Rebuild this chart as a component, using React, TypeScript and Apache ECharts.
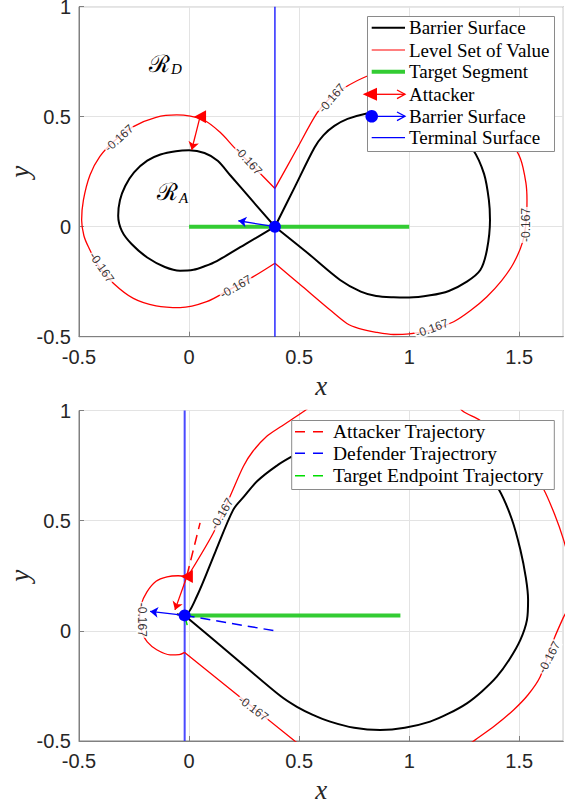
import React, { useEffect, useRef } from 'react';
import * as echarts from 'echarts';

// ---------- axes ----------
const X_MIN = -0.5;
const X_MAX = 1.7;
const Y_MIN = -0.5;
const Y_MAX = 1;
const TICK_STEP = 0.5;

// ---------- top panel ----------
const topTerminal: number[][] = [[0.39, -0.5], [0.39, 1]];
const topTarget: number[][] = [[0, 0], [1, 0]];
const topBarrierLeft: number[][] = [
  [0.39, 0], [0.29, 0.115], [0.186, 0.235], [0.13, 0.3], [0.07, 0.335], [0.0, 0.347],
  [-0.06, 0.343], [-0.13, 0.328], [-0.19, 0.3], [-0.25, 0.247], [-0.29, 0.185],
  [-0.314, 0.12], [-0.322, 0.05], [-0.305, -0.02], [-0.26, -0.08], [-0.19, -0.14],
  [-0.11, -0.183], [-0.041, -0.2], [0.02, -0.196], [0.07, -0.18], [0.126, -0.156],
  [0.26, -0.077], [0.39, 0],
];
const topBarrierRight: number[][] = [
  [0.39, 0], [0.48, 0.18], [0.57, 0.36], [0.61, 0.415], [0.66, 0.458], [0.72, 0.49],
  [0.807, 0.515], [0.9, 0.528], [1.0, 0.525], [1.1, 0.5], [1.2, 0.45], [1.29, 0.35],
  [1.34, 0.24], [1.362, 0.121], [1.367, 0.03], [1.353, -0.106], [1.323, -0.197],
  [1.262, -0.25], [1.18, -0.292], [1.095, -0.312], [1.0, -0.322], [0.929, -0.321],
  [0.85, -0.315], [0.78, -0.295], [0.686, -0.242], [0.54, -0.121], [0.39, 0],
];
const topLevelLeft: number[][] = [
  [0.39, 0.174], [0.3, 0.265], [0.209, 0.356], [0.14, 0.43], [0.065, 0.485],
  [-0.056, 0.508], [-0.15, 0.497], [-0.253, 0.455], [-0.34, 0.39], [-0.405, 0.32],
  [-0.45, 0.235], [-0.48, 0.121], [-0.488, 0.03], [-0.478, -0.04], [-0.458, -0.09],
  [-0.41, -0.18], [-0.344, -0.257], [-0.253, -0.326], [-0.15, -0.36], [-0.041, -0.368],
  [0.08, -0.341], [0.185, -0.285], [0.292, -0.227], [0.39, -0.166],
];
const topLevelRight: number[][] = [
  [0.39, 0.174], [0.485, 0.345], [0.58, 0.515], [0.64, 0.585], [0.701, 0.629],
  [0.81, 0.685], [0.92, 0.71], [1.03, 0.712], [1.15, 0.69], [1.27, 0.63], [1.38, 0.52],
  [1.45, 0.41], [1.505, 0.31], [1.53, 0.2], [1.535, 0.121], [1.532, 0.03], [1.515, -0.07],
  [1.474, -0.166], [1.42, -0.245], [1.353, -0.318], [1.28, -0.38], [1.202, -0.432],
  [1.1, -0.47], [1.0, -0.487], [0.929, -0.49], [0.85, -0.48], [0.77, -0.462],
  [0.717, -0.44], [0.641, -0.379], [0.515, -0.272], [0.39, -0.166],
];
// [x, y, rotation in degrees]
const topContourLabels: number[][] = [
  [-0.318, 0.402, 42], [0.27, 0.3, -48], [0.648, 0.584, 50], [-0.397, -0.185, -55],
  [0.212, -0.273, 30], [1.103, -0.462, 20], [1.53, 0.008, 90],
];
const topAttacker: number[] = [0.05, 0.5];
const topAttackerArrow: number[][] = [[0.05, 0.5], [0.012, 0.349]];
const topDefender: number[] = [0.39, 0];
const topDefenderArrow: number[][] = [[0.39, 0], [0.224, 0.027]];

// ---------- bottom panel ----------
const botTerminal: number[][] = [[-0.02, -0.5], [-0.02, 1]];
const botTarget: number[][] = [[-0.02, 0.07], [0.96, 0.07]];
const botBarrier: number[][] = [
  [-0.055, 0.075], [-0.02, 0.07], [0.035, 0.156], [0.12, 0.36], [0.201, 0.55], [0.25, 0.61],
  [0.31, 0.68], [0.399, 0.75], [0.474, 0.795], [0.6, 0.86], [0.75, 0.915], [0.9, 0.935],
  [1.05, 0.915], [1.2, 0.86], [1.32, 0.76], [1.406, 0.644], [1.465, 0.51], [1.505, 0.368],
  [1.53, 0.24], [1.54, 0.141], [1.535, 0.05], [1.505, -0.041], [1.455, -0.13],
  [1.398, -0.208], [1.33, -0.275], [1.262, -0.329], [1.18, -0.375], [1.095, -0.412],
  [0.98, -0.44], [0.868, -0.45], [0.75, -0.44], [0.641, -0.412], [0.56, -0.38],
  [0.49, -0.345], [0.414, -0.295], [0.2, -0.115], [-0.02, 0.07],
];
const botLevelUpper: number[][] = [
  [0.58, 1.04], [0.527, 1.0], [0.414, 0.925], [0.353, 0.883], [0.29, 0.815],
  [0.247, 0.747], [0.186, 0.61], [0.11, 0.444], [0.005, 0.265], [-0.01, 0.247],
];
const botLevelArc: number[][] = [
  [-0.01, 0.247], [-0.05, 0.25], [-0.1, 0.245], [-0.15, 0.225], [-0.192, 0.176],
  [-0.218, 0.118], [-0.225, 0.05], [-0.213, -0.01], [-0.19, -0.05], [-0.147, -0.086],
  [-0.086, -0.109], [-0.045, -0.108], [-0.02, -0.098],
];
const botLevelLower: number[][] = [[-0.02, -0.098], [0.2, -0.275], [0.48, -0.5], [0.52, -0.53]];
const botLevelRight: number[][] = [
  [1.2, 1.06], [1.24, 1.0], [1.323, 0.955], [1.43, 0.87], [1.53, 0.77], [1.61, 0.644],
  [1.66, 0.53], [1.701, 0.414], [1.73, 0.3], [1.74, 0.2], [1.725, 0.11], [1.7, 0.06],
  [1.656, -0.041], [1.595, -0.208], [1.54, -0.29], [1.474, -0.359], [1.39, -0.43],
  [1.3, -0.495], [1.25, -0.53],
];
const botContourLabels: number[][] = [
  [0.149, 0.532, 60], [-0.212, 0.05, -90], [0.292, -0.352, -37], [1.636, -0.12, 62],
];
const botAttacker: number[] = [-0.01, 0.247];
const botAttackerArrow: number[][] = [[-0.01, 0.247], [-0.064, 0.095]];
const botDefender: number[] = [-0.02, 0.07];
const botDefenderArrow: number[][] = [[-0.02, 0.07], [-0.177, 0.088]];
const botAttackerTraj: number[][] = [[-0.01, 0.25], [0.05, 0.49]];
const botDefenderTraj: number[][] = [[-0.02, 0.07], [0.39, 0.0]];
const botTargetTraj: number[][] = [[-0.02, 0.07], [-0.003, 0.005]];

const CONTOUR_TEXT = '-0.167';
const topLegendTexts = [
  'Barrier Surface', 'Level Set of Value', 'Target Segment', 'Attacker',
  'Barrier Surface', 'Terminal Surface',
];
const botLegendTexts = ['Attacker Trajectory', 'Defender Trajectrory', 'Target Endpoint Trajectory'];

const RED = '#ff0000';
const BLUE = '#0000ff';
const BLACK = '#000000';
const GREEN = '#33cc33';
const LEFT_TRIANGLE = 'path://M0,5 L10,0 L10,10 Z';

function line(data: number[][], idx: number, color: string, width: number, opts: any = {}) {
  return {
    type: 'line', xAxisIndex: idx, yAxisIndex: idx, data, showSymbol: false, symbol: 'none',
    silent: true, smooth: opts.smooth ?? false, z: opts.z ?? 2,
    lineStyle: { color, width, type: opts.dash ?? 'solid', opacity: opts.opacity ?? 1 },
  };
}
function arrow(coords: number[][], idx: number, color: string) {
  return {
    type: 'lines', coordinateSystem: 'cartesian2d', xAxisIndex: idx, yAxisIndex: idx,
    silent: true, symbol: ['none', 'arrow'], symbolSize: 8, z: 5,
    lineStyle: { color, width: 1.3, opacity: 1, curveness: 0 },
    data: [{ coords }],
  };
}
function labels(items: number[][], idx: number) {
  return {
    type: 'scatter', xAxisIndex: idx, yAxisIndex: idx, silent: true, symbolSize: 0.1, z: 6,
    itemStyle: { color: 'rgba(0,0,0,0)' },
    data: items.map((d) => ({ value: [d[0], d[1]], label: { rotate: d[2] } })),
    label: {
      show: true, position: 'inside', formatter: CONTOUR_TEXT, fontSize: 12,
      fontFamily: 'Liberation Sans', color: '#000000', backgroundColor: '#ffffff', padding: [0, 1],
    },
  };
}
function marker(pos: number[], idx: number, symbol: string, color: string, size: any, rotate = 0) {
  return {
    type: 'scatter', xAxisIndex: idx, yAxisIndex: idx, silent: true, z: 7,
    symbol, symbolSize: size, symbolRotate: rotate, itemStyle: { color, opacity: 1 },
    data: [pos],
  };
}

function axisPair(idx: number) {
  const lbl = { color: '#262626', fontSize: 20, fontFamily: 'Liberation Sans' };
  const nameStyle = {
    fontFamily: 'Liberation Serif', fontStyle: 'italic', fontSize: 27, lineHeight: 22, color: '#262626',
  };
  const axisLine = { show: true, onZero: false, lineStyle: { color: '#808080' } };
  const axisTick = { show: true, inside: true, length: 5, lineStyle: { color: '#808080' } };
  const splitLine = { show: true, lineStyle: { color: '#e3e3e3', width: 1 } };
  const xa = {
    gridIndex: idx, type: 'value', min: X_MIN, max: X_MAX, interval: TICK_STEP,
    name: 'x', nameLocation: 'middle', nameGap: 38, nameMoveOverlap: false, nameTextStyle: nameStyle,
    axisLine, axisTick, splitLine,
    axisLabel: { ...lbl, margin: 10, showMaxLabel: false },
  };
  const ya = {
    gridIndex: idx, type: 'value', min: Y_MIN, max: Y_MAX, interval: TICK_STEP,
    name: 'y', nameLocation: 'middle', nameGap: 48, nameMoveOverlap: false, nameTextStyle: nameStyle,
    axisLine, axisTick, splitLine,
    axisLabel: { ...lbl, margin: 8, lineHeight: 9, padding: [4, 0, 0, 0] },
  };
  return { xa, ya };
}

function legendGraphics() {
  const g: any[] = [];
  const Z = 100;
  // top legend
  g.push({ type: 'rect', z: Z, shape: { x: 367.5, y: 16.5, width: 187, height: 135 },
    style: { fill: '#ffffff', stroke: '#8a8a8a', lineWidth: 1 } });
  const ty = [27.7, 50, 71.7, 94.3, 116.3, 137.7];
  const x1 = 371.7, x2 = 405;
  const hl = (y: number, color: string, w: number, a = x1, b = x2, dash: any = null) => ({
    type: 'line', z: Z + 1, shape: { x1: a, y1: y, x2: b, y2: y },
    style: { stroke: color, lineWidth: w, lineDash: dash },
  });
  const head = (y: number, color: string) => ({
    type: 'polyline', z: Z + 1, shape: { points: [[x2 - 8, y - 4.3], [x2, y], [x2 - 8, y + 4.3]] },
    style: { stroke: color, lineWidth: 1.3, fill: null },
  });
  g.push(hl(ty[0], BLACK, 2));
  g.push(hl(ty[1], RED, 1.2));
  g.push(hl(ty[2], GREEN, 4));
  g.push({ type: 'polygon', z: Z + 2, shape: { points: [[362.7, ty[3]], [377, ty[3] - 6.5], [377, ty[3] + 6.5]] },
    style: { fill: RED } });
  g.push(hl(ty[3], RED, 1.3, 376, x2));
  g.push(head(ty[3], RED));
  g.push(hl(ty[4], BLUE, 1.3));
  g.push(head(ty[4], BLUE));
  g.push({ type: 'circle', z: Z + 2, shape: { cx: 371.7, cy: ty[4], r: 6.3 }, style: { fill: BLUE } });
  g.push(hl(ty[5], BLUE, 1.2));
  topLegendTexts.forEach((t, i) => g.push({
    type: 'text', z: Z + 2, x: 409, y: ty[i],
    style: { text: t, font: '19px "Liberation Serif"', fill: '#000', align: 'left', verticalAlign: 'middle' },
  }));
  // bottom legend
  g.push({ type: 'rect', z: Z, shape: { x: 291.7, y: 420.5, width: 262.6, height: 69 },
    style: { fill: '#ffffff', stroke: '#8a8a8a', lineWidth: 1 } });
  const by = [431.7, 453.3, 475.7];
  const bc = [RED, BLUE, '#00dd00'];
  by.forEach((y, i) => g.push(hl(y, bc[i], 1.5, 295, 324.5, [10, 8])));
  botLegendTexts.forEach((t, i) => g.push({
    type: 'text', z: Z + 2, x: 333, y: by[i],
    style: { text: t, font: '19.5px "Liberation Serif"', fill: '#000', align: 'left', verticalAlign: 'middle' },
  }));
  // region names
  const reg = (cx: number, cy: number, sub: string, sx: number, sy: number) => {
    g.push({ type: 'text', z: 20, x: cx, y: cy,
      style: { text: 'ℛ', font: '24px "DejaVu Serif"', fill: '#000', align: 'center', verticalAlign: 'middle' } });
    g.push({ type: 'text', z: 20, x: sx, y: sy,
      style: { text: sub, font: 'italic 15px "Liberation Serif"', fill: '#000', align: 'center', verticalAlign: 'middle' } });
  };
  reg(159, 63.5, 'D', 176.5, 68.5);
  reg(167.5, 191.5, 'A', 183.5, 198);
  return g;
}

export default function App() {
  const ref = useRef<HTMLDivElement>(null);
  useEffect(() => {
    if (!ref.current) return;
    const chart = echarts.init(ref.current, undefined, { renderer: 'svg' });
    const a0 = axisPair(0);
    const a1 = axisPair(1);
    const gridCommon = {
      left: 79, width: 484.3, show: true, borderColor: '#808080', borderWidth: 1,
      backgroundColor: 'transparent', containLabel: false, outerBoundsMode: 'none',
    };
    const option: any = {
      animation: false,
      backgroundColor: '#ffffff',
      grid: [
        { ...gridCommon, top: 6.7, height: 330 },
        { ...gridCommon, top: 410.5, height: 330.5 },
      ],
      xAxis: [a0.xa, a1.xa],
      yAxis: [a0.ya, a1.ya],
      series: [
        // top
        line(topBarrierLeft, 0, BLACK, 2, { smooth: 0.3 }),
        line(topBarrierRight, 0, BLACK, 2, { smooth: 0.3 }),
        line(topLevelLeft, 0, RED, 1.3, { smooth: 0.3 }),
        line(topLevelRight, 0, RED, 1.3, { smooth: 0.3 }),
        line(topTerminal, 0, '#1a1aff', 1.4, { z: 3 }),
        line(topTarget, 0, GREEN, 4, { z: 3 }),
        labels(topContourLabels, 0),
        arrow(topAttackerArrow, 0, RED),
        arrow(topDefenderArrow, 0, BLUE),
        marker(topAttacker, 0, LEFT_TRIANGLE, RED, [12, 13], 0),
        marker(topDefender, 0, 'circle', BLUE, 12),
        // bottom
        line(botTerminal, 1, '#2a2aff', 2, { z: 1, opacity: 0.85 }),
        line(botBarrier, 1, BLACK, 2, { smooth: 0.3 }),
        line(botLevelUpper, 1, RED, 1.3, { smooth: 0.3 }),
        line(botLevelArc, 1, RED, 1.3, { smooth: 0.3 }),
        line(botLevelLower, 1, RED, 1.3),
        line(botLevelRight, 1, RED, 1.3, { smooth: 0.3 }),
        line(botTarget, 1, GREEN, 4, { z: 3 }),
        line(botAttackerTraj, 1, RED, 1.5, { dash: [10, 6], z: 4 }),
        line(botDefenderTraj, 1, BLUE, 1.5, { dash: [10, 6], z: 4 }),
        line(botTargetTraj, 1, '#00dd00', 1.5, { dash: [10, 6], z: 4 }),
        labels(botContourLabels, 1),
        arrow(botAttackerArrow, 1, RED),
        arrow(botDefenderArrow, 1, BLUE),
        marker(botAttacker, 1, LEFT_TRIANGLE, RED, [12, 13], 0),
        marker(botDefender, 1, 'circle', BLUE, 12),
      ],
      graphic: legendGraphics(),
    };
    chart.setOption(option);
    return () => chart.dispose();
  }, []);
  return <div ref={ref} style={{ position: 'fixed', left: 0, top: 0, width: 574, height: 804, background: '#fff' }} />;
}
